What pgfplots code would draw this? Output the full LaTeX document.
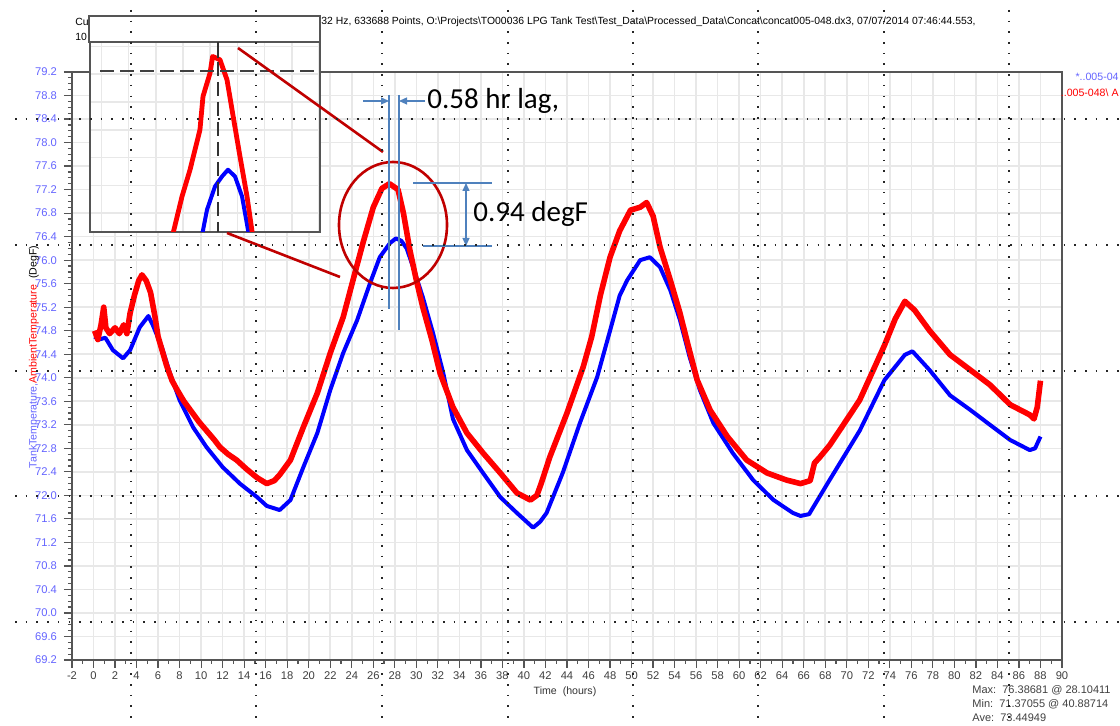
\documentclass[border=0pt]{standalone}
\usepackage{pgfplots}
\pgfplotsset{compat=1.18}
\usepackage{fontspec}
\setmainfont{Liberation Sans}
\newfontfamily\calibri{Carlito}
\usetikzlibrary{arrows.meta}

\definecolor{tankblue}{RGB}{0,0,255}
\definecolor{ambred}{RGB}{255,0,0}
\definecolor{ticklbl}{RGB}{100,100,255}
\definecolor{annored}{RGB}{192,0,0}
\definecolor{annoblue}{RGB}{79,129,189}
\definecolor{axisgray}{RGB}{85,85,85}
\definecolor{gridgray}{RGB}{232,232,232}

\begin{document}
\begin{tikzpicture}
\useasboundingbox (0,0) rectangle (560pt,363pt);
\clip (0,0) rectangle (560pt,363pt);

% title (partly hidden by the inset window)
\begin{scope}[x=0.5pt,y=-0.5pt,shift={(0,363pt)}]
  \node[anchor=west,inner sep=0pt,font=\fontsize{5.2}{6}\selectfont] at (75,22) {Cu};
  \node[anchor=west,inner sep=0pt,font=\fontsize{5.2}{6}\selectfont] at (75,37) {10};
  \node[anchor=west,inner sep=0pt,font=\fontsize{5.2}{6}\selectfont] at (321,22)
    {32 Hz, 633688 Points, O:\textbackslash Projects\textbackslash TO00036 LPG Tank Test\textbackslash Test\_Data\textbackslash Processed\_Data\textbackslash Concat\textbackslash concat005-048.dx3, 07/07/2014 07:46:44.553,};
\end{scope}

% main chart
\begin{axis}[
  at={(36pt,33pt)}, anchor=south west,
  scale only axis, width=495pt, height=294pt,
  xmin=-2, xmax=90, ymin=69.2, ymax=79.2,
  xtick distance=2, ytick distance=0.4,
  minor x tick num=1, minor y tick num=3,
  tick pos=left, tick align=outside,
  major tick length=4pt, minor tick length=2pt,
  every tick/.style={axisgray, line width=0.6pt},
  axis line style={axisgray, line width=0.8pt},
  grid=major, major grid style={gridgray, line width=0.8pt},
  xticklabel={\pgfmathprintnumber[assume math mode=true]{\tick}},
  yticklabel={\pgfmathprintnumber[fixed,fixed zerofill,precision=1,assume math mode=true]{\tick}},
  xticklabel style={font=\fontsize{5.6}{6}\selectfont, text=black!75, yshift=1.5pt},
  yticklabel style={font=\fontsize{5.6}{6}\selectfont, text=ticklbl},
  xlabel={Time\ \ (hours)},
  every axis x label/.style={at={(axis description cs:0.498,-0.0544)}, anchor=center, font=\fontsize{5.3}{6}\selectfont, text=black!80},
  ylabel={{\color{ticklbl}TankTemperature,}{\color{ambred}AmbientTemperature}\ \ (DegF)},
  every axis y label/.style={at={(axis description cs:-0.0384,0.5153)}, rotate=90, anchor=center, font=\fontsize{5.3}{6}\selectfont},
]
% TankTemperature
\addplot[tankblue, line width=2pt, line join=round] coordinates {
(0.1,74.7)(0.5,74.65)(1.1,74.68)(1.8,74.47)(2.75,74.33)(3.4,74.47)(4.3,74.86)(5.1,75.05)(5.5,74.9)
(6.35,74.52)(7.1,74.08)(8,73.62)(9.25,73.16)(10.5,72.82)(12,72.48)(13.6,72.2)(15.2,71.97)(16.1,71.82)
(17.3,71.75)(18.3,71.92)(19.5,72.48)(20.8,73.06)(22,73.79)(23.2,74.42)(24.5,74.98)(25.7,75.61)
(26.6,76.05)(27.55,76.29)(28.1,76.37)(28.6,76.33)(29.1,76.2)(29.7,75.88)(30.6,75.37)(31.55,74.76)
(32.5,74.08)(33.4,73.3)(34.7,72.77)(36.2,72.38)(37.8,71.97)(39.35,71.7)(40.85,71.45)(41.5,71.55)
(42.1,71.7)(43.6,72.38)(45.2,73.23)(46.8,74.01)(48,74.8)(48.9,75.4)(49.6,75.66)(50.8,76.0)(51.7,76.05)
(52.65,75.88)(53.6,75.49)(54.5,74.98)(55.4,74.35)(56.35,73.79)(57.6,73.23)(59.4,72.72)(61.3,72.26)
(63.2,71.92)(65,71.7)(65.7,71.65)(66.5,71.68)(68.4,72.26)(71.2,73.1)(73.5,73.96)(75.4,74.39)(76.1,74.45)
(77.7,74.13)(79.6,73.7)(81.5,73.45)(83.3,73.2)(85.2,72.94)(87,72.77)(87.5,72.8)(88,73.0)
};
% AmbientTemperature
\addplot[ambred, line width=2.8pt, line join=round] coordinates {
(0.1,74.8)(0.4,74.65)(0.7,74.9)(0.95,75.2)(1.15,74.85)(1.5,74.75)(2.0,74.85)(2.4,74.75)(2.8,74.9)
(3.1,74.75)(3.4,75.1)(3.8,75.4)(4.2,75.65)(4.5,75.75)(4.9,75.65)(5.3,75.45)(5.7,75.05)(6.0,74.7)
(6.4,74.45)(6.8,74.2)(7.3,73.95)(7.75,73.8)(8.4,73.6)(9.0,73.45)(9.8,73.25)(10.5,73.1)(11.2,72.95)
(11.75,72.82)(12.5,72.7)(13.3,72.6)(14.2,72.45)(15.2,72.3)(16.1,72.2)(16.8,72.25)(17.3,72.35)
(18.3,72.6)(19.5,73.16)(20.8,73.74)(22,74.42)(23.2,75.03)(24.1,75.65)(25.05,76.3)(26,76.9)
(26.8,77.22)(27.5,77.3)(28.3,77.2)(28.8,76.8)(29.4,76.17)(30,75.66)(30.6,75.2)(31.45,74.64)
(32.2,74.08)(33.4,73.5)(34.7,73.06)(36.2,72.72)(37.8,72.38)(39.35,72.04)(40.6,71.92)(41.2,72.0)
(41.6,72.2)(42.4,72.65)(44,73.4)(45.5,74.18)(46.3,74.7)(47.1,75.4)(48.0,76.05)(48.9,76.5)(49.9,76.85)
(50.8,76.9)(51.4,76.98)(52,76.75)(52.65,76.22)(53.6,75.66)(54.5,75.1)(55.2,74.59)(56.1,73.96)
(57.3,73.45)(58.9,73.0)(60.7,72.6)(62.6,72.38)(64.4,72.26)(65.7,72.2)(66.6,72.25)(67.0,72.55)
(67.5,72.65)(68.4,72.85)(69.5,73.15)(71.2,73.62)(73.5,74.55)(74.5,75.0)(75.4,75.3)(76.3,75.15)
(77.7,74.8)(79.6,74.39)(81.5,74.13)(83.3,73.88)(85.2,73.54)(87,73.37)(87.4,73.3)(87.7,73.5)(88,73.95)
};
\end{axis}

% zoomed inset window
\begin{axis}[
  at={(45pt,247pt)}, anchor=south west,
  scale only axis, width=115pt, height=95pt,
  xmin=19.69, xmax=34.06, ymin=75.83, ymax=77.54,
  xtick distance=1.7, ytick distance=0.25,
  xticklabels={}, yticklabels={}, major tick length=0pt,
  grid=major, major grid style={gridgray, line width=0.8pt},
  axis line style={axisgray, line width=0.9pt},
  axis background/.style={fill=white},
]
\addplot[tankblue, line width=2pt, line join=round] coordinates {
(26.69,75.8)(27,76.03)(27.5,76.24)(27.94,76.33)(28.31,76.39)(28.75,76.33)(29.19,76.15)(29.56,75.85)(29.65,75.8)
};
\addplot[ambred, line width=2.4pt, line join=round] coordinates {
(24.85,75.8)(25.44,76.15)(25.94,76.39)(26.56,76.75)(26.75,77.05)(27.19,77.26)(27.35,77.41)(27.81,77.38)
(28.25,77.2)(28.6,76.9)(29.06,76.51)(29.5,76.15)(29.85,75.8)
};
\end{axis}

\begin{scope}[x=0.5pt,y=-0.5pt,shift={(0,363pt)}]
  % inset header strip and guide lines
  \draw[axisgray, line width=0.9pt, fill=white] (89,16) rectangle (320,42);
  \draw[black!75, line width=0.8pt, dash pattern=on 7pt off 3pt] (100,71) -- (320,71);
  \draw[black!80, line width=0.8pt, dash pattern=on 7pt off 3pt] (218,42) -- (218,232);
  \draw[black!80, line width=0.8pt] (218,42) -- (218,58);
  % red callout
  \draw[annored, line width=1.3pt] (238,48) -- (383,152);
  \draw[annored, line width=1.3pt] (227,233) -- (340,277);
  \draw[annored, line width=1.3pt] (393,225) ellipse [x radius=54, y radius=63];
  % lag annotation
  \draw[annoblue, line width=0.6pt] (389,95) -- (389,309);
  \draw[annoblue, line width=0.6pt] (399,95) -- (399,330);
  \draw[annoblue, line width=0.6pt, -{Triangle[length=4pt,width=3.5pt]}] (363,101) -- (389,101);
  \draw[annoblue, line width=0.6pt, -{Triangle[length=4pt,width=3.5pt]}] (425,101) -- (399,101);
  \node[anchor=west, inner sep=0pt, font=\calibri\fontsize{14.5}{17}\selectfont] at (427,101) {0.58 hr lag,};
  % delta annotation
  \draw[annoblue, line width=0.6pt] (413,183) -- (492,183);
  \draw[annoblue, line width=0.6pt] (423,246) -- (492,246);
  \draw[annoblue, line width=0.6pt, {Triangle[length=4pt,width=3.5pt]}-{Triangle[length=4pt,width=3.5pt]}] (466,183) -- (466,246);
  \node[anchor=west, inner sep=0pt, font=\calibri\fontsize{14.5}{17}\selectfont] at (473,214) {0.94 degF};
  % channel names at the right edge (only the visible part)
  \node[anchor=east, inner sep=0pt, font=\fontsize{5.3}{6}\selectfont, text=ticklbl] at (1119,77) {*..005-04};
  \node[anchor=east, inner sep=0pt, font=\fontsize{5.3}{6}\selectfont, text=ambred] at (1119,93) {..005-048\textbackslash{} A};
  % statistics
  \begin{scope}[every node/.style={anchor=west, inner sep=0pt, font=\fontsize{5.5}{6}\selectfont, text=black!75}]
    \node at (972,690) {Max:\ \ 76.38681 @ 28.10411};
    \node at (972,704) {Min:\ \ 71.37055 @ 40.88714};
    \node at (972,718) {Ave:\ \ 73.44949};
  \end{scope}
  % dotted overlay grid
  \begin{scope}[black!85, line width=0.8pt, dash pattern=on 0.8pt off 4.55pt]
    \foreach \gx in {131,256,382,508,633,758,884,1009} \draw (\gx,10) -- (\gx,726);
    \foreach \gy in {119,245,371,496,622} \draw (15,\gy) -- (1120,\gy);
  \end{scope}
\end{scope}
\end{tikzpicture}
\end{document}
